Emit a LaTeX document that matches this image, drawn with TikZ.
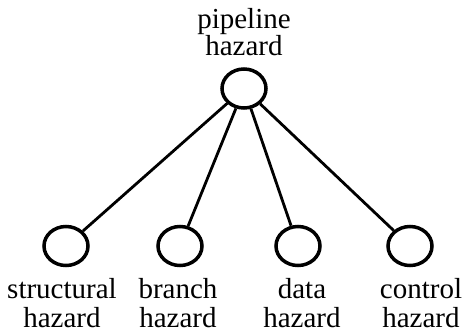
\documentclass[tikz,border=0pt]{standalone}
\usepackage{fontspec}
\setmainfont{Liberation Serif}
\usetikzlibrary{shapes.geometric}
\begin{document}
\begin{tikzpicture}[x=1pt,y=-1pt,
  hz/.style={draw,line width=3.5pt,shape=ellipse,minimum width=44pt,minimum height=39pt,inner sep=0pt},
  lbl/.style={align=center,inner sep=0pt,anchor=base,font=\fontsize{29}{29}\selectfont},
  edge/.style={line width=2.8pt}]
\useasboundingbox (0,0) rectangle (466,333);
\node[hz] (top) at (244,88.5) {};
\node[hz] (s) at (66,246) {};
\node[hz] (b) at (180,246) {};
\node[hz] (d) at (298,246) {};
\node[hz] (c) at (410,246) {};
\draw[edge] (top) -- (s);
\draw[edge] (top) -- (b);
\draw[edge] (top) -- (d);
\draw[edge] (top) -- (c);
\node[lbl,font=\fontsize{29}{27}\selectfont] (tl) at (244,55) {pipeline\\hazard};
\node[lbl] (sl) at (62,327) {structural\\hazard};
\node[lbl] (bl) at (178,327) {branch\\hazard};
\node[lbl] (dl) at (302,327) {data\\hazard};
\node[lbl] (cl) at (421,327) {control\\hazard};
\end{tikzpicture}
\end{document}
